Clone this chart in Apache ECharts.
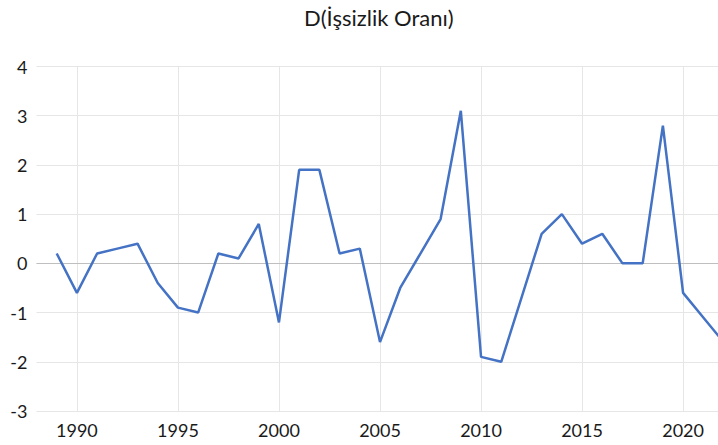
<!DOCTYPE html>
<html>
<head>
<meta charset="utf-8">
<script src="https://cdn.jsdelivr.net/npm/echarts@6/dist/echarts.min.js"></script>
<style>
  html, body { margin: 0; padding: 0; background: #fff; }
  #chart { width: 718px; height: 445px; }
</style>
</head>
<body>
<div id="chart"></div>
<script>
// yearly change of the unemployment rate
const years = [1989, 1990, 1991, 1992, 1993, 1994, 1995, 1996, 1997, 1998,
  1999, 2000, 2001, 2002, 2003, 2004, 2005, 2006, 2007, 2008,
  2009, 2010, 2011, 2012, 2013, 2014, 2015, 2016, 2017, 2018,
  2019, 2020, 2021, 2022];
const values = [0.2, -0.6, 0.2, 0.3, 0.4, -0.4, -0.9, -1.0, 0.2, 0.1,
  0.8, -1.2, 1.9, 1.9, 0.2, 0.3, -1.6, -0.5, 0.2, 0.9,
  3.1, -1.9, -2.0, -0.7, 0.6, 1.0, 0.4, 0.6, 0.0, 0.0,
  2.8, -0.6, -1.1, -1.6];
const xTicks = [1990, 1995, 2000, 2005, 2010, 2015, 2020];

const FONT = 'Lato, "Open Sans", sans-serif';
const GRID = '#e6e6e6';

const chart = echarts.init(document.getElementById('chart'), null, { renderer: 'svg' });
chart.setOption({
  animation: false,
  title: {
    text: 'D(İşsizlik Oranı)',
    left: 299, top: 1,
    textStyle: { color: '#1a1a1a', fontFamily: FONT, fontSize: 22, fontWeight: 'normal' },
  },
  // plot runs past the right edge: the reference is cropped there
  grid: { left: 36.5, top: 66.5, width: 687, height: 344.5, outerBoundsMode: 'none', containLabel: false },
  xAxis: {
    type: 'value', min: 1988, max: 2022,
    axisLine: { show: false },
    axisTick: { show: false, customValues: xTicks },
    axisLabel: { customValues: xTicks, formatter: (v) => String(v),
      color: '#1a1a1a', fontFamily: FONT, fontSize: 18, margin: 10 },
    splitLine: { show: true, lineStyle: { color: GRID, width: 1 } },
  },
  yAxis: {
    type: 'value', min: -3, max: 4, interval: 1,
    axisLine: { show: false },
    axisTick: { show: false },
    axisLabel: { color: '#1a1a1a', fontFamily: FONT, fontSize: 18, margin: 9 },
    splitLine: { show: true, lineStyle: { color: GRID, width: 1 } },
  },
  series: [{
    type: 'line',
    data: years.map((y, i) => [y, values[i]]),
    showSymbol: false,
    lineStyle: { color: '#4472C4', width: 2.5 },
    markLine: {
      silent: true, symbol: 'none', label: { show: false },
      lineStyle: { color: '#bfbfbf', type: 'solid', width: 1 },
      data: [{ yAxis: 0 }],
      z: 1,
    },
    z: 3,
  }],
});
</script>
</body>
</html>
